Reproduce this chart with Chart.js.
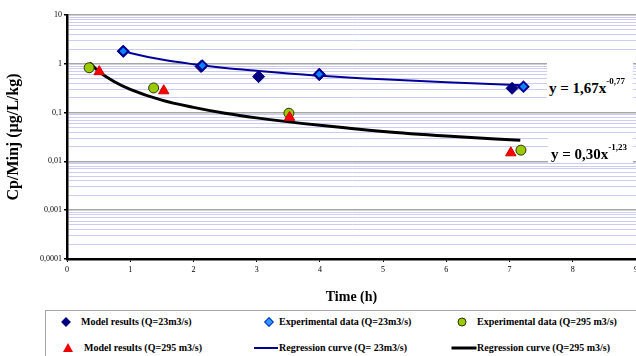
<!DOCTYPE html>
<html>
<head>
<meta charset="utf-8">
<script src="https://cdn.jsdelivr.net/npm/chart.js@4"></script>
<style>
  html, body { margin: 0; padding: 0; background: #fff; }
  body { width: 636px; height: 356px; overflow: hidden; position: relative; font-family: "Liberation Serif", "Times New Roman", serif; }
  #wrap { position: absolute; left: 0; top: 0; width: 650px; height: 310px; }
  .eq { position: absolute; background: #fff; font-weight: bold; font-size: 15px; color: #000; white-space: nowrap; }
  .eq sup { font-size: 9px; position: relative; top: -3px; }
  #legend { position: absolute; left: 45px; top: 310px; width: 600px; height: 60px; border: 1px solid #a6a6a6; }
  .li { position: absolute; font-family: "Liberation Serif", serif; font-weight: bold; font-size: 10px; white-space: nowrap; line-height: 12px; }
  .mk { position: absolute; }
</style>
</head>
<body>
<div id="wrap"><canvas id="chart"></canvas></div>
<div class="eq" style="left:547px; top:62px; width:86px; height:42px; padding-left:2px; box-sizing:border-box; line-height:44px;">y = 1,67x<sup>-0,77</sup></div>
<div class="eq" style="left:548px; top:135px; width:85px; height:28px; padding-left:3px; box-sizing:border-box; line-height:31px;">y = 0,30x<sup>-1,23</sup></div>
<div id="legend"></div>
<script>
// Model results (Q=23m3/s)
const model23X = [0.89, 2.12, 3.03, 3.99, 7.04];
const model23Y = [1.8, 0.88, 0.545, 0.6, 0.315];
// Experimental data (Q=23m3/s)
const exp23X = [0.89, 2.14, 3.99, 7.22];
const exp23Y = [1.82, 0.92, 0.61, 0.34];
// Experimental data (Q=295 m3/s)
const exp295X = [0.35, 1.37, 3.51, 7.18];
const exp295Y = [0.83, 0.32, 0.097, 0.017];
// Model results (Q=295 m3/s)
const model295X = [0.51, 1.53, 3.52, 7.02];
const model295Y = [0.69, 0.28, 0.08, 0.015];
// Regression curve (Q= 23m3/s)
const reg23X = [0.89, 1, 1.5, 2, 2.5, 3, 4, 5, 6, 7.2];
const reg23Y = [1.83, 1.67, 1.22, 0.98, 0.82, 0.72, 0.57, 0.48, 0.42, 0.365];
// Regression curve (Q=295 m3/s)
const reg295X = [0.36, 0.5, 0.75, 1, 1.5, 2, 2.5, 3, 4, 5, 6, 7.17];
const reg295Y = [1.05, 0.70, 0.43, 0.30, 0.18, 0.128, 0.097, 0.078, 0.055, 0.041, 0.033, 0.027];

const yTickValues = [0.0001, 0.001, 0.01, 0.1, 1, 10];
const yTickLabels = ['0,0001', '0,001', '0,01', '0,1', '1', '10'];
const xTickLabels = ['0', '1', '2', '3', '4', '5', '6', '7', '8', '9'];

const legendLabels = [
  'Model results (Q=23m3/s)', 'Experimental data (Q=23m3/s)', 'Experimental data (Q=295 m3/s)',
  'Model results (Q=295 m3/s)', 'Regression curve (Q= 23m3/s)', 'Regression curve (Q=295 m3/s)'
];

const pts = (xs, ys) => xs.map((x, i) => ({ x: x, y: ys[i] }));

function majorIndex(v) {
  return yTickValues.findIndex(t => Math.abs(v - t) / t < 1e-6);
}

new Chart(document.getElementById('chart'), {
  type: 'scatter',
  data: {
    datasets: [
      {
        label: legendLabels[0], data: pts(model23X, model23Y), order: 5,
        pointStyle: 'rectRot', pointRadius: 6, backgroundColor: '#000080', borderColor: '#000080', borderWidth: 1
      },
      {
        label: legendLabels[1], data: pts(exp23X, exp23Y), order: 4,
        pointStyle: 'rectRot', pointRadius: 5, backgroundColor: '#0a84ff', borderColor: '#000090', borderWidth: 2
      },
      {
        label: legendLabels[2], data: pts(exp295X, exp295Y), order: 3,
        pointStyle: 'circle', pointRadius: 5, backgroundColor: '#99cc00', borderColor: '#333300', borderWidth: 1
      },
      {
        label: legendLabels[3], data: pts(model295X, model295Y), order: 2,
        pointStyle: 'triangle', pointRadius: 6, backgroundColor: '#ff0000', borderColor: '#cc0000', borderWidth: 1
      },
      {
        label: legendLabels[4], type: 'line', data: pts(reg23X, reg23Y), order: 10,
        borderColor: '#000099', borderWidth: 2, pointRadius: 0, cubicInterpolationMode: 'monotone', fill: false
      },
      {
        label: legendLabels[5], type: 'line', data: pts(reg295X, reg295Y), order: 11,
        borderColor: '#000000', borderWidth: 3, pointRadius: 0, cubicInterpolationMode: 'monotone', fill: false
      }
    ]
  },
  options: {
    responsive: true,
    maintainAspectRatio: false,
    animation: false,
    layout: { padding: { top: 15, right: 14, left: 0, bottom: 0 } },
    plugins: { legend: { display: false }, tooltip: { enabled: false } },
    scales: {
      x: {
        type: 'linear', min: 0, max: 9,
        afterFit: s => { s.height = 51; },
        afterBuildTicks: s => { s.ticks = xTickLabels.map((_, i) => ({ value: i })); },
        ticks: {
          autoSkip: false, padding: 3, color: '#000',
          font: { family: 'Liberation Serif', size: 8 },
          callback: (v, i) => xTickLabels[i]
        },
        grid: { drawOnChartArea: false, tickLength: 3, tickColor: '#000', tickWidth: 1 },
        border: { color: '#000', width: 2.5 },
        title: {
          display: true, text: 'Time (h)', color: '#000',
          font: { family: 'Liberation Serif', size: 14, weight: 'bold' },
          padding: { top: 0, bottom: 4 }
        }
      },
      y: {
        type: 'logarithmic', min: 0.0001, max: 10,
        afterFit: s => { s.width = 67; },
        afterBuildTicks: s => {
          const t = [];
          for (let e = -4; e < 1; e++) {
            for (let k = 1; k < 10; k++) t.push({ value: k * Math.pow(10, e) });
          }
          t.push({ value: 10 });
          s.ticks = t;
        },
        ticks: {
          autoSkip: false, padding: 2, color: '#000',
          font: { family: 'Liberation Serif', size: 8 },
          callback: v => { const i = majorIndex(v); return i >= 0 ? yTickLabels[i] : ''; }
        },
        grid: {
          color: c => majorIndex(c.tick.value) >= 0 ? '#a6a6a6' : '#ccccf5',
          lineWidth: c => majorIndex(c.tick.value) >= 0 ? 1.5 : 1,
          tickLength: 3,
          tickColor: c => majorIndex(c.tick.value) >= 0 ? '#000' : 'rgba(0,0,0,0)'
        },
        border: { color: '#000', width: 2.5 },
        title: {
          display: true, text: 'Cp/Minj (µg/L/kg)', color: '#000',
          font: { family: 'Liberation Serif', size: 16, weight: 'bold' },
          padding: { top: 4, bottom: 0 }
        }
      }
    }
  }
});

// legend drawn as html, positions in page coordinates
const legendPos = [
  { x: 81, y: 322, mk: 66 }, { x: 279, y: 322, mk: 269 }, { x: 477, y: 322, mk: 462 },
  { x: 84, y: 348, mk: 68 }, { x: 279, y: 348, mk: 266 }, { x: 477, y: 348, mk: 464 }
];
const markers = [
  'width:7px;height:7px;background:#000080;transform:translate(-50%,-50%) rotate(45deg);',
  'width:5px;height:5px;background:#3399ff;border:1px solid #0033cc;transform:translate(-50%,-50%) rotate(45deg);',
  'width:7px;height:7px;border-radius:50%;background:#99cc00;border:1px solid #333300;transform:translate(-50%,-50%);',
  'width:0;height:0;border-left:5px solid transparent;border-right:5px solid transparent;border-bottom:9px solid #ee0000;transform:translate(-50%,-55%);',
  'width:24px;height:2px;background:#000099;transform:translate(-50%,-50%);',
  'width:25px;height:3px;background:#000;transform:translate(-50%,-50%);'
];
const legend = document.getElementById('legend');
legendLabels.forEach((txt, i) => {
  const p = legendPos[i];
  const m = document.createElement('div');
  m.className = 'mk';
  m.style.cssText = 'position:absolute;left:' + (p.mk - 46) + 'px;top:' + (p.y - 311) + 'px;' + markers[i];
  legend.appendChild(m);
  const t = document.createElement('div');
  t.className = 'li';
  t.style.left = (p.x - 46) + 'px';
  t.style.top = (p.y - 311 - 6) + 'px';
  t.textContent = txt;
  legend.appendChild(t);
});
</script>
</body>
</html>
